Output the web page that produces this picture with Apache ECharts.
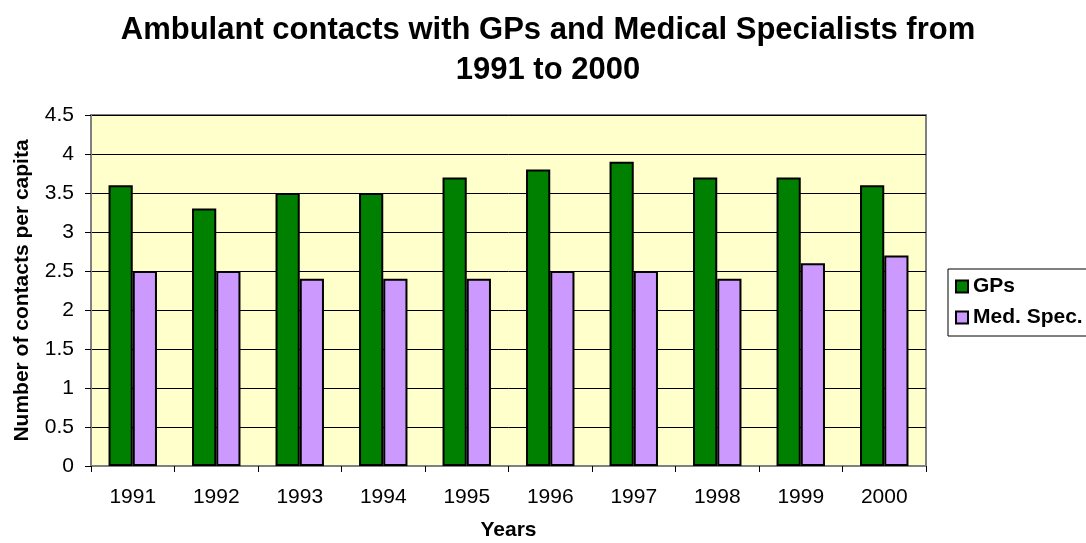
<!DOCTYPE html>
<html>
<head>
<meta charset="utf-8">
<script src="https://cdn.jsdelivr.net/npm/echarts@6/dist/echarts.min.js"></script>
<style>
  html, body { margin: 0; padding: 0; background: #fff; }
  #chart { width: 1086px; height: 543px; }
</style>
</head>
<body>
<div id="chart"></div>
<script>
var years = ["1991", "1992", "1993", "1994", "1995", "1996", "1997", "1998", "1999", "2000"];
var gps = [3.6, 3.3, 3.5, 3.5, 3.7, 3.8, 3.9, 3.7, 3.7, 3.6];
var medSpec = [2.5, 2.5, 2.4, 2.4, 2.4, 2.5, 2.5, 2.4, 2.6, 2.7];

var font = "Liberation Sans, Arial, sans-serif";
var myChart = echarts.init(document.getElementById("chart"));
myChart.setOption({
  backgroundColor: "#ffffff",
  animation: false,
  textStyle: { fontFamily: font },
  title: {
    text: "Ambulant contacts with GPs and Medical Specialists from\n1991 to 2000",
    left: 543,
    textAlign: "center",
    top: 5,
    textStyle: { fontSize: 31, fontWeight: "bold", color: "#000", lineHeight: 40, fontFamily: font }
  },
  legend: {
    orient: "vertical",
    left: 948,
    top: 269,
    padding: [7, 40, 8, 7],
    itemGap: 10,
    itemWidth: 12,
    itemHeight: 12,
    itemTextGap: 8,
    borderColor: "#000",
    borderWidth: 1,
    icon: "rect",
    itemStyle: { borderColor: "#000", borderWidth: 2 },
    textStyle: { fontSize: 21, fontWeight: "bold", color: "#000", fontFamily: font },
    data: ["GPs", "Med. Spec."]
  },
  grid: {
    left: 91,
    right: 160,
    top: 115,
    bottom: 77,
    outerBoundsMode: "none",
    show: true,
    backgroundColor: "#FFFFCC",
    borderColor: "#808080",
    borderWidth: 2
  },
  xAxis: {
    type: "category",
    data: years,
    name: "Years",
    nameLocation: "middle",
    nameGap: 54,
    nameTextStyle: { fontSize: 21, fontWeight: "bold", color: "#000" },
    axisLine: { lineStyle: { color: "#808080", width: 2 } },
    axisTick: { show: true, length: 6, lineStyle: { color: "#000" } },
    axisLabel: { fontSize: 21, color: "#000", margin: 21 }
  },
  yAxis: {
    type: "value",
    min: 0,
    max: 4.5,
    interval: 0.5,
    name: "Number of contacts per capita",
    nameLocation: "middle",
    nameGap: 58,
    nameTextStyle: { fontSize: 21, fontWeight: "bold", color: "#000" },
    axisLine: { show: true, lineStyle: { color: "#808080", width: 2 } },
    axisTick: { show: true, length: 6, lineStyle: { color: "#000" } },
    axisLabel: { fontSize: 21, color: "#000", margin: 17 },
    splitLine: { show: true, lineStyle: { color: "#000", width: 1 } }
  },
  series: [
    {
      name: "GPs",
      type: "bar",
      data: gps,
      barGap: "0%",
      barCategoryGap: "42%",
      itemStyle: { color: "#008000", borderColor: "#000", borderWidth: 2 }
    },
    {
      name: "Med. Spec.",
      type: "bar",
      data: medSpec,
      itemStyle: { color: "#CC99FF", borderColor: "#000", borderWidth: 2 }
    }
  ]
});
</script>
</body>
</html>
